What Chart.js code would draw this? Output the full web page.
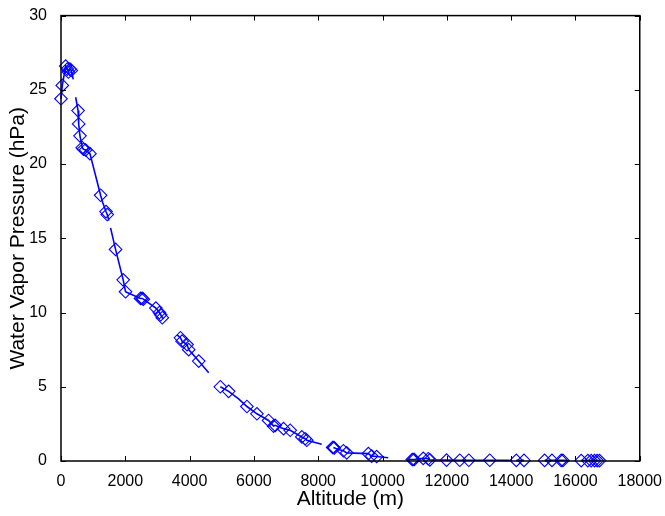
<!DOCTYPE html>
<html>
<head>
<meta charset="utf-8">
<script src="https://cdn.jsdelivr.net/npm/chart.js@4/dist/chart.umd.min.js"></script>
<style>
    html, body { margin: 0; padding: 0; background: #fff; }
    canvas { display: block; }
</style>
</head>
<body>
<canvas id="vaporChart" width="665" height="516"></canvas>
<script>
// line trace (null = break in the line)
const lineAlt = [0, 41, 145, 196, 230, 279, 320, 382, null,
    456, 530, 550, 590, 662, 700, 766, 900, 1232, 1300, 1400, 1437, 1490, null,
    1541, 1697, 1934, 2007, 2058, 2473, 2524, 2560, 2950, 3060, 3100, 3150, 3200, null,
    3610, 3714, 3766, 3921, 3972, 4283, 4593, null,
    4955, 5214, 5524, 5783, 6093, 6455, 6610, 6662, 6921, 7128, 7490, 7593, 7645, 8110, null,
    8472, 8628, 8783, 8886, 9559, 9662, 9817, 10179, null,
    10800, 10924, 10986, 11266, 11421, 11473, 11990, 12403, 12683, 13335, 13950, null,
    14160, 14400, null,
    15041, 15269, 15556, 15610, 15750, null,
    16179, 16386, 16490, 16593, 16676, 16748];
const lineVp = [24.4, 25.3, 26.6, 26.4, 26.2, 26.4, 26.3, 25.7, null,
    24.5, 23.6, 22.7, 21.9, 21.1, 21.0, 20.95, 20.7, 17.9, 17.4, 16.8, 16.6, 16.2, null,
    15.7, 14.25, 12.2, 11.4, 11.35, 10.95, 10.95, 10.9, 10.3, 10.0, 9.85, 9.65, 9.6, null,
    8.5, 8.3, 8.07, 7.84, 7.5, 6.73, 5.95, null,
    5.0, 4.69, 4.18, 3.67, 3.18, 2.73, 2.35, 2.4, 2.18, 2.07, 1.62, 1.5, 1.4, 1.13, null,
    0.91, 0.78, 0.69, 0.55, 0.5, 0.33, 0.3, 0.22, null,
    0.12, 0.1, 0.1, 0.18, 0.15, 0.08, 0.06, 0.05, 0.05, 0.05, 0.04, null,
    0.04, 0.04, null,
    0.04, 0.04, 0.04, 0.04, 0.04, null,
    0.03, 0.03, 0.03, 0.03, 0.03, 0.03];

// diamond markers
const markAlt = [0, 41, 145, 196, 230, 279, 320,
    530, 550, 590, 662, 700, 766, 900, 1232, 1400, 1437,
    1697, 1934, 2007, 2473, 2524, 2560, 2950, 3060, 3100, 3150,
    3714, 3766, 3921, 3972, 4283,
    4955, 5214, 5783, 6093, 6455, 6610, 6662, 6921, 7128, 7490, 7593, 7645,
    8450, 8472, 8500, 8783, 8886, 9559, 9662, 9817,
    10924, 10950, 10986, 11266, 11421, 11473, 11990, 12403, 12683, 13335, 14160, 14400,
    15041, 15269, 15556, 15610, 16179, 16386, 16490, 16593, 16676, 16748];
const markVp = [24.4, 25.3, 26.6, 26.4, 26.2, 26.4, 26.3,
    23.6, 22.7, 21.9, 21.1, 21.0, 20.95, 20.7, 17.9, 16.8, 16.6,
    14.25, 12.2, 11.4, 10.95, 10.95, 10.9, 10.3, 10.0, 9.85, 9.65,
    8.3, 8.07, 7.84, 7.5, 6.73,
    5.0, 4.69, 3.67, 3.18, 2.73, 2.35, 2.4, 2.18, 2.07, 1.62, 1.5, 1.4,
    0.91, 0.91, 0.88, 0.69, 0.55, 0.5, 0.33, 0.3,
    0.1, 0.1, 0.1, 0.18, 0.15, 0.08, 0.06, 0.05, 0.05, 0.05, 0.04, 0.04,
    0.04, 0.04, 0.04, 0.04, 0.03, 0.03, 0.03, 0.03, 0.03, 0.03];

const xTicks = [0, 2000, 4000, 6000, 8000, 10000, 12000, 14000, 16000, 18000];
const yTicks = [0, 5, 10, 15, 20, 25, 30];

const BLUE = '#0000FF';
const FONT = "'Liberation Sans', Arial, sans-serif";

// box around the plot with inward ticks on all four sides (MATLAB look)
const boxPlugin = {
    id: 'boxPlugin',
    afterDraw(chart) {
        const { ctx, chartArea: a, scales } = chart;
        const len = 5;
        ctx.save();
        ctx.strokeStyle = '#000';
        ctx.lineWidth = 1;
        ctx.beginPath();
        xTicks.forEach(v => {
            const px = Math.round(scales.x.getPixelForValue(v)) + 0.5;
            ctx.moveTo(px, a.bottom); ctx.lineTo(px, a.bottom - len);
            ctx.moveTo(px, a.top); ctx.lineTo(px, a.top + len);
        });
        yTicks.forEach(v => {
            const py = Math.round(scales.y.getPixelForValue(v)) + 0.5;
            ctx.moveTo(a.left, py); ctx.lineTo(a.left + len, py);
            ctx.moveTo(a.right, py); ctx.lineTo(a.right - len, py);
        });
        ctx.stroke();
        ctx.lineWidth = 1.5;
        ctx.strokeRect(a.left, a.top, a.right - a.left, a.bottom - a.top);
        ctx.restore();
    }
};

const ctx = document.getElementById('vaporChart');

new Chart(ctx, {
    type: 'scatter',
    data: {
        datasets: [{
            label: 'trace',
            data: lineAlt.map((x, i) => ({ x: x, y: lineVp[i] })),
            showLine: true,
            spanGaps: false,
            borderColor: BLUE,
            borderWidth: 1.6,
            pointRadius: 0,
            tension: 0
        }, {
            label: 'samples',
            data: markAlt.map((x, i) => ({ x: x, y: markVp[i] })),
            showLine: false,
            pointStyle: 'rectRot',
            pointRadius: 6.3,
            pointBorderWidth: 1.1,
            pointBorderColor: BLUE,
            pointBackgroundColor: 'rgba(0,0,0,0)'
        }]
    },
    options: {
        responsive: false,
        animation: false,
        clip: false,
        layout: { padding: { top: 13, right: 25, left: 0, bottom: 0 } },
        plugins: {
            legend: { display: false },
            tooltip: { enabled: false }
        },
        scales: {
            x: {
                type: 'linear',
                min: 0,
                max: 18000,
                afterBuildTicks: (scale) => { scale.ticks = xTicks.map(v => ({ value: v })); },
                afterFit: (scale) => { scale.height = 55; },
                grid: { display: false },
                border: { display: false },
                ticks: { color: '#000', padding: 3, maxRotation: 0, font: { family: FONT, size: 16 }, callback: v => String(v) },
                title: { display: true, text: 'Altitude (m)', color: '#000', font: { family: FONT, size: 21 }, padding: { top: 0, bottom: 4 } }
            },
            y: {
                min: 0,
                max: 30,
                afterBuildTicks: (scale) => { scale.ticks = yTicks.map(v => ({ value: v })); },
                afterFit: (scale) => { scale.width = 61; },
                grid: { display: false },
                border: { display: false },
                ticks: { color: '#000', padding: 6, font: { family: FONT, size: 16 }, callback: v => String(v) },
                title: { display: true, text: 'Water Vapor Pressure (hPa)', color: '#000', font: { family: FONT, size: 21 }, padding: { top: 6, bottom: 0 } }
            }
        }
    },
    plugins: [boxPlugin]
});
</script>
</body>
</html>
